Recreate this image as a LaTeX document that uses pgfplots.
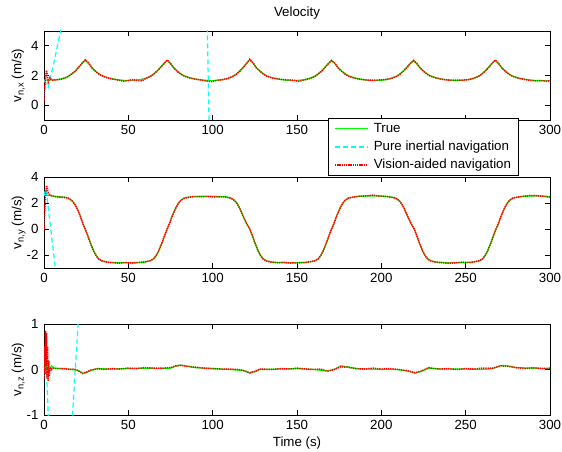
\documentclass[border=0pt]{standalone}
\usepackage{pgfplots}
\pgfplotsset{compat=1.18}
\usepackage{fontspec}
\setmainfont{Liberation Sans}
\newcommand{\fs}{\fontsize{13.3}{16}\selectfont}
\pgfplotsset{
  myax/.style={
    scale only axis, width=506pt,
    xmin=0, xmax=300, xtick={0,50,...,300},
    tick align=inside, major tick length=5pt,
    axis line style={line width=0.9pt},
    every tick/.style={black, line width=0.9pt},
    /pgf/number format/assume math mode=true,
    tick label style={font=\fs},
    xticklabel style={yshift=-2pt},
    yticklabel style={xshift=-2pt},
    label style={font=\fs},
    title style={font=\fs, yshift=2pt},
    ylabel style={at={(axis description cs:-0.0445,0.5)}, anchor=base},
    clip=true,
  },
  truestyle/.style={color={rgb,1:red,0;green,1;blue,0}, line width=1.3pt},
  insstyle/.style={color={rgb,1:red,0;green,1;blue,1}, line width=1.2pt, dash pattern=on 5pt off 3pt},
  visstyle/.style={color={rgb,1:red,1;green,0;blue,0}, line width=1.5pt, dash pattern=on 1.3pt off 0.9pt},
}
\begin{document}
\begin{tikzpicture}
\useasboundingbox (0pt,0pt) rectangle (562pt,451pt);
% ---------------- v_n,x ----------------
\begin{axis}[myax, at={(44pt,331pt)}, anchor=south west, height=89pt,
  ymin=-1, ymax=5, ytick={0,2,4},
  xticklabels={0,50,100,150,{},{},300},
  title={Velocity},
  ylabel={v\textsubscript{n,x} (m/s)},
  legend style={at={(axis description cs:0.561,0.022)}, anchor=north west,
    draw=black, line width=0.8pt, fill=white, font=\fs,
    inner xsep=6pt, inner ysep=3.1pt, row sep=3.8pt, column sep=4pt,
    nodes={inner sep=1pt, text height=9.6pt, text depth=2.8pt},
    cells={anchor=west}},
  legend image code/.code={\draw[#1] (0pt,0pt) -- (33pt,0pt);},
]
\addplot[truestyle] coordinates {(0,1.68)(2,1.7)(5,1.7)(8,1.72)(11.5,1.8)(14.5,1.95)(16.5,2.1)(18.5,2.3)(20.5,2.55)(22.5,2.8)(24.5,3.02)(26.5,2.8)(28.5,2.52)(30.5,2.3)(32.5,2.12)(34.5,1.98)(37.5,1.86)(40.5,1.78)(44.5,1.7)(48.5,1.66)(53,1.67)(57,1.72)(60,1.8)(63,1.95)(65,2.1)(67,2.3)(69,2.55)(71,2.8)(73,3.02)(75,2.8)(77,2.52)(79,2.3)(81,2.12)(83,1.98)(86,1.86)(89,1.78)(93,1.7)(97,1.66)(102,1.67)(106,1.72)(109,1.8)(112,1.95)(114,2.1)(116,2.3)(118,2.55)(120,2.8)(122,3.05)(124,2.82)(126,2.52)(128,2.3)(130,2.12)(132,1.98)(135,1.86)(138,1.78)(142,1.7)(146,1.66)(150.5,1.67)(154.5,1.72)(157.5,1.8)(160.5,1.95)(162.5,2.1)(164.5,2.3)(166.5,2.55)(168.5,2.8)(170.5,3.0)(172.5,2.8)(174.5,2.52)(176.5,2.3)(178.5,2.12)(180.5,1.98)(183.5,1.86)(186.5,1.78)(190.5,1.7)(194.5,1.66)(199,1.67)(203,1.72)(206,1.8)(209,1.95)(211,2.1)(213,2.3)(215,2.55)(217,2.8)(219,3.0)(221,2.8)(223,2.52)(225,2.3)(227,2.12)(229,1.98)(232,1.86)(235,1.78)(239,1.7)(243,1.66)(247.5,1.67)(251.5,1.72)(254.5,1.8)(257.5,1.95)(259.5,2.1)(261.5,2.3)(263.5,2.55)(265.5,2.8)(267.5,3.02)(269.5,2.8)(271.5,2.52)(273.5,2.3)(275.5,2.12)(277.5,1.98)(280.5,1.86)(283.5,1.78)(287.5,1.7)(291.5,1.66)(295,1.65)(300,1.64)};
\addplot[insstyle] coordinates {(0,1.7)(1,1.5)(2.5,1.2)(6.5,3.2)(9.8,5)(15,8)(40,40)(70,60)(90,45)(96.8,5.5)(97.9,-1.5)(100,-15)};
\addplot[visstyle] coordinates {(0,0.3)(0.5,1.2)(1,2.0)(1.5,2.35)(2,2.0)(2.5,1.55)(3,1.7)(3.5,1.85)(4.5,1.7)(6,1.68)(8,1.72)(10,1.74)(11.5,1.8)(13,1.86)(14.5,1.95)(16.5,2.12)(18.5,2.28)(20.5,2.55)(22.5,2.82)(24.5,3.05)(26.5,2.85)(28.5,2.5)(30.5,2.28)(32.5,2.1)(34.5,1.98)(37.5,1.84)(40.5,1.76)(44.5,1.68)(47,1.62)(50,1.66)(52,1.72)(55,1.68)(58,1.63)(60,1.78)(63,1.93)(65,2.08)(67,2.3)(69,2.52)(71,2.78)(73,3.05)(75,2.82)(77,2.5)(79,2.28)(81,2.1)(83,1.97)(86,1.84)(89,1.76)(93,1.7)(97,1.62)(99,1.58)(102,1.66)(106,1.72)(109,1.8)(112,1.93)(114,2.08)(116,2.28)(118,2.52)(120,2.8)(122,3.1)(124,2.85)(126,2.5)(128,2.3)(130,2.1)(132,1.96)(135,1.84)(138,1.78)(142,1.72)(146,1.7)(149,1.66)(151,1.6)(154.5,1.7)(157.5,1.8)(160.5,1.93)(162.5,2.1)(164.5,2.28)(166.5,2.52)(168.5,2.78)(170.5,3.02)(172.5,2.82)(174.5,2.5)(176.5,2.28)(178.5,2.1)(180.5,1.96)(183.5,1.84)(186.5,1.76)(190.5,1.7)(194.5,1.68)(199,1.7)(203,1.74)(206,1.82)(209,1.93)(211,2.08)(213,2.28)(215,2.52)(217,2.78)(219,3.02)(221,2.82)(223,2.5)(225,2.28)(227,2.1)(229,1.96)(232,1.84)(235,1.76)(239,1.7)(243,1.68)(247.5,1.68)(251.5,1.72)(254.5,1.8)(257.5,1.93)(259.5,2.08)(261.5,2.28)(263.5,2.52)(265.5,2.8)(267.5,3.05)(269.5,2.82)(271.5,2.5)(273.5,2.28)(275.5,2.1)(277.5,1.96)(280.5,1.84)(283.5,1.76)(287.5,1.68)(291.5,1.64)(295,1.66)(298,1.6)(300,1.66)};
\legend{True, Pure inertial navigation, Vision-aided navigation}
\end{axis}
% ---------------- v_n,y ----------------
\begin{axis}[myax, at={(44pt,183pt)}, anchor=south west, height=91pt,
  ymin=-3, ymax=4, ytick={-2,0,2,4},
  ylabel={v\textsubscript{n,y} (m/s)},
]
\addplot[truestyle] coordinates {(0,2.6)(3,2.58)(6,2.52)(9,2.48)(12.5,2.45)(14.5,2.38)(16.5,2.2)(18,1.95)(19.5,1.6)(21.5,1.0)(23,0.45)(24.5,0)(26,-0.5)(27.5,-1.05)(29.5,-1.7)(31,-2.05)(32.5,-2.3)(34.5,-2.45)(37.5,-2.54)(41.5,-2.58)(48,-2.6)(57,-2.58)(60,-2.54)(63,-2.45)(65,-2.3)(66.5,-2.05)(68,-1.7)(70,-1.05)(71.5,-0.5)(73,0)(74.5,0.45)(76,1.0)(78,1.6)(79.5,1.95)(81,2.2)(83,2.38)(86,2.46)(89,2.5)(97,2.52)(106,2.5)(109,2.45)(111,2.38)(113,2.2)(114.5,1.95)(116,1.6)(118,1.0)(120,0.45)(122,0)(123.5,-0.5)(125,-1.05)(127,-1.7)(128.5,-2.05)(130,-2.3)(132,-2.45)(135,-2.54)(139,-2.58)(146,-2.6)(154.5,-2.58)(157.5,-2.54)(160.5,-2.45)(162.5,-2.3)(164,-2.05)(165.5,-1.7)(167.5,-1.05)(169,-0.5)(170.5,0)(172,0.45)(173.5,1.0)(175.5,1.6)(177,1.95)(178.5,2.2)(180.5,2.38)(183.5,2.46)(187,2.52)(195,2.55)(203.5,2.5)(206.5,2.45)(208.5,2.38)(210.5,2.2)(212,1.95)(213.5,1.6)(215.5,1.0)(217.5,0.45)(219.5,0)(221,-0.5)(222.5,-1.05)(224.5,-1.7)(226,-2.05)(227.5,-2.3)(229.5,-2.45)(232.5,-2.54)(236.5,-2.58)(244,-2.6)(252,-2.58)(255,-2.54)(258,-2.45)(260,-2.3)(261.5,-2.05)(263,-1.7)(265,-1.05)(266.5,-0.5)(268,0)(269.5,0.45)(271,1.0)(273,1.6)(274.5,1.95)(276,2.2)(278,2.38)(281,2.46)(284.5,2.52)(292,2.55)(300,2.5)};
\addplot[insstyle] coordinates {(0,2.6)(1.2,3.1)(6.7,-3.0)(10,-6.5)};
\addplot[visstyle] coordinates {(0,0)(0.5,1.5)(1,2.8)(1.5,3.35)(2,3.1)(2.5,2.75)(3.5,2.6)(6,2.5)(9,2.45)(12.5,2.42)(14.5,2.36)(16.5,2.18)(18,1.95)(19.5,1.62)(21.5,1.0)(23,0.42)(24.5,-0.05)(26,-0.55)(27.5,-1.1)(29.5,-1.72)(31,-2.08)(32.5,-2.32)(34.5,-2.47)(37.5,-2.56)(41.5,-2.6)(45,-2.63)(48,-2.58)(52,-2.62)(57,-2.57)(60,-2.52)(63,-2.43)(65,-2.28)(66.5,-2.03)(68,-1.68)(70,-1.05)(71.5,-0.5)(73,0)(74.5,0.45)(76,1.0)(78,1.58)(79.5,1.93)(81,2.18)(83,2.36)(86,2.44)(89,2.5)(93,2.48)(97,2.5)(101,2.46)(106,2.48)(109,2.42)(111,2.36)(113,2.18)(114.5,1.95)(116,1.6)(118,1.0)(120,0.45)(122,0)(123.5,-0.5)(125,-1.05)(127,-1.7)(128.5,-2.07)(130,-2.32)(132,-2.47)(135,-2.56)(139,-2.6)(142,-2.56)(146,-2.62)(150,-2.6)(154.5,-2.58)(157.5,-2.52)(160.5,-2.45)(162.5,-2.3)(164,-2.05)(165.5,-1.7)(167.5,-1.05)(169,-0.5)(170.5,0)(172,0.45)(173.5,1.0)(175.5,1.6)(177,1.95)(178.5,2.2)(180.5,2.38)(183.5,2.46)(187,2.52)(191,2.55)(195,2.6)(199,2.54)(203.5,2.5)(206.5,2.42)(208.5,2.36)(210.5,2.2)(212,1.95)(213.5,1.6)(215.5,1.0)(217.5,0.45)(219.5,0)(221,-0.5)(222.5,-1.05)(224.5,-1.7)(226,-2.07)(227.5,-2.32)(229.5,-2.47)(232.5,-2.56)(236.5,-2.6)(240,-2.64)(244,-2.6)(248,-2.55)(252,-2.58)(255,-2.52)(258,-2.45)(260,-2.3)(261.5,-2.05)(263,-1.7)(265,-1.05)(266.5,-0.5)(268,0)(269.5,0.45)(271,1.0)(273,1.6)(274.5,1.95)(276,2.2)(278,2.38)(281,2.46)(284.5,2.52)(288,2.58)(292,2.56)(296,2.52)(300,2.44)};
\end{axis}
% ---------------- v_n,z ----------------
\begin{axis}[myax, at={(44pt,36pt)}, anchor=south west, height=91pt,
  ymin=-1, ymax=1, ytick={-1,0,1},
  ylabel={v\textsubscript{n,z} (m/s)},
  xlabel={Time (s)},
]
\addplot[truestyle] coordinates {(0,0)(1,0.3)(1.5,-0.1)(2.5,-0.15)(3.5,0.0)(4.5,0.08)(6,0.03)(10,0.02)(15,0.01)(20,-0.02)(23,-0.08)(25,-0.07)(28,-0.02)(32,0.02)(40,0.01)(50,0.02)(60,0.03)(70,0.02)(75,0.03)(78,0.07)(81,0.1)(85,0.07)(90,0.04)(100,0.02)(110,0.0)(118,-0.02)(122,-0.08)(125,-0.05)(128,0.0)(140,0.01)(150,0.02)(160,0.0)(168,-0.03)(172,0.0)(176,0.08)(180,0.06)(185,0.02)(200,0.0)(210,0.0)(216,-0.04)(220,-0.08)(224,-0.04)(228,0.03)(235,0.01)(250,0.01)(260,0.0)(266,0.02)(271,0.09)(275,0.08)(280,0.04)(290,0.03)(300,0.02)};
\addplot[insstyle] coordinates {(0,0.05)(1.5,0)(2.5,-1)(4,-3)(8,-6)(12,-4)(16.9,-1)(20.2,1)(25,4)};
\addplot[visstyle] coordinates {(0,-0.2)(0.3,0.5)(0.6,-0.1)(0.9,0.85)(1.2,0.1)(1.5,0.8)(1.8,-0.2)(2.1,0.5)(2.4,-0.25)(2.8,0.2)(3.2,-0.15)(3.6,0.05)(4.5,0.0)(5,0.03)(8,0.02)(12,0.02)(15,0.0)(18,0.01)(20,-0.02)(23,-0.09)(25,-0.06)(28,-0.01)(32,0.02)(36,0.0)(40,0.02)(45,0.01)(50,0.03)(55,0.02)(60,0.04)(65,0.03)(70,0.03)(75,0.04)(78,0.08)(81,0.09)(85,0.07)(90,0.05)(95,0.03)(100,0.02)(105,0.01)(110,0.01)(115,0.0)(118,-0.02)(122,-0.07)(125,-0.04)(128,0.01)(135,0.0)(140,0.02)(145,0.01)(150,0.03)(155,0.01)(160,0.0)(164,0.01)(168,-0.04)(172,0.0)(176,0.06)(180,0.05)(185,0.02)(190,0.01)(195,0.03)(200,0.01)(205,0.02)(210,0.0)(216,-0.03)(220,-0.07)(224,-0.03)(228,0.04)(232,0.02)(235,0.01)(240,0.02)(245,0.0)(250,0.02)(255,0.01)(260,0.03)(266,0.03)(271,0.08)(275,0.07)(280,0.04)(285,0.02)(290,0.04)(295,0.02)(300,0.03)};
\end{axis}
\end{tikzpicture}
\end{document}
